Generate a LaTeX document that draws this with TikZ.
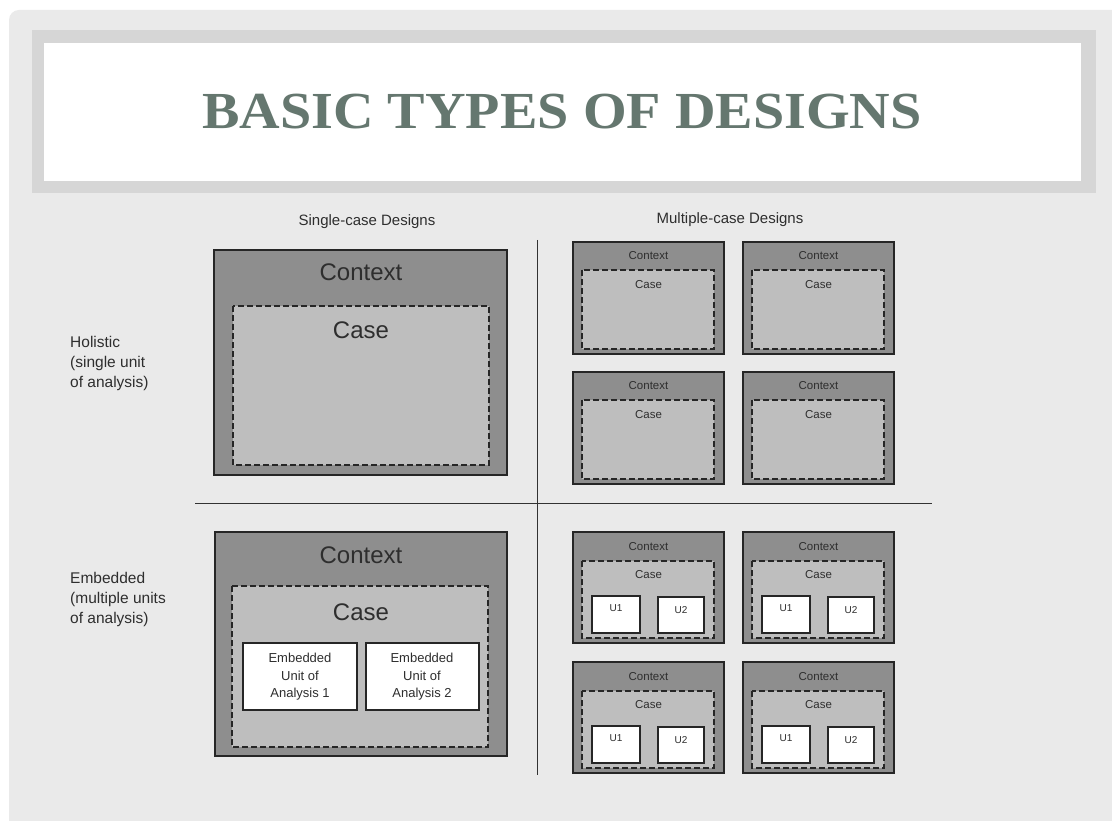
\documentclass[tikz,border=0pt]{standalone}
\usepackage{fontspec}
\setmainfont{Liberation Sans}
\newfontfamily\titlefont{Liberation Serif}
\definecolor{pagebg}{HTML}{EAEAEA}
\definecolor{bandgray}{HTML}{D6D6D6}
\definecolor{ctxfill}{HTML}{8E8E8E}
\definecolor{casefill}{HTML}{BEBEBE}
\definecolor{titlecol}{HTML}{65776F}
\definecolor{txt}{HTML}{2E2E2E}
\begin{document}
\begin{tikzpicture}[x=1pt,y=-1pt,
  ctx/.style={draw=black!85,line width=1.1pt,fill=ctxfill},
  casebox/.style={draw=black!85,line width=1.1pt,fill=casefill,dash pattern=on 6pt off 3pt},
  unitbox/.style={draw=black!85,line width=1.1pt,fill=white},
  lbl/.style={text=txt,inner sep=0pt},
  divider/.style={draw=black!80,line width=0.9pt}]
\useasboundingbox (0,0) rectangle (1112,821);
\fill[white] (0,0) rectangle (1112,821);
\fill[pagebg,rounded corners=10pt] (9,10) rectangle (1125,840);
% title band
\fill[bandgray] (32,30) rectangle (1096,193);
\fill[white] (44,43) rectangle (1081,181);
\node[lbl,text=titlecol,font=\titlefont\bfseries\fontsize{52}{52}\selectfont,xscale=1.08] (title) at (562,112) {BASIC TYPES OF DESIGNS};
% column headers
\node[lbl,font=\fontsize{15}{15}\selectfont] (hsingle) at (367,222) {Single-case Designs};
\node[lbl,font=\fontsize{15}{15}\selectfont] (hmulti) at (730,220) {Multiple-case Designs};
% row labels
\node[lbl,anchor=north west,align=left,font=\fontsize{15.5}{20}\selectfont] (rhol) at (70,336) {Holistic\\(single unit\\of analysis)};
\node[lbl,anchor=north west,align=left,font=\fontsize{15.5}{20}\selectfont] (remb) at (70,572) {Embedded\\(multiple units\\of analysis)};
% dividers
\coordinate (vtop) at (537,240);
\coordinate (vbot) at (537,775);
\coordinate (hl) at (195,503);
\coordinate (hr) at (932,503);
\draw[divider] (vtop) -- (vbot);
\draw[divider] (hl) -- (hr);
% single holistic
\draw[ctx] (214,250) rectangle (507,475);
\draw[casebox] (233,306) rectangle (489,465);
\node[lbl,font=\fontsize{24}{24}\selectfont] (c1) at (361,272) {Context};
\node[lbl,font=\fontsize{24}{24}\selectfont] (s1) at (361,330) {Case};
% single embedded
\draw[ctx] (215,532) rectangle (507,756);
\draw[casebox] (232,586) rectangle (488,747);
\node[lbl,font=\fontsize{24}{24}\selectfont] (c2) at (361,555) {Context};
\node[lbl,font=\fontsize{24}{24}\selectfont] (s2) at (361,612) {Case};
\draw[unitbox] (243,643) rectangle (357,710);
\draw[unitbox] (366,643) rectangle (479,710);
\node[lbl,align=center,font=\fontsize{13}{17.5}\selectfont] (e1) at (300,677) {Embedded\\Unit of\\Analysis 1};
\node[lbl,align=center,font=\fontsize{13}{17.5}\selectfont] (e2) at (422,677) {Embedded\\Unit of\\Analysis 2};
% multiple holistic
\foreach \x/\y [count=\i] in {573/242, 743/242, 573/372, 743/372}{
  \draw[ctx] (\x,\y) rectangle ++(151,112);
  \draw[casebox] (\x+9,\y+28) rectangle ++(132,79);
  \node[lbl,font=\fontsize{11.5}{11.5}\selectfont] (mc\i) at (\x+75.5,\y+14) {Context};
  \node[lbl,font=\fontsize{11.5}{11.5}\selectfont] (ms\i) at (\x+75.5,\y+43) {Case};
}
% multiple embedded
\foreach \x/\y [count=\i] in {573/532, 743/532, 573/662, 743/662}{
  \draw[ctx] (\x,\y) rectangle ++(151,111);
  \draw[casebox] (\x+9,\y+29) rectangle ++(132,77);
  \node[lbl,font=\fontsize{11.5}{11.5}\selectfont] (ec\i) at (\x+75.5,\y+15) {Context};
  \node[lbl,font=\fontsize{11.5}{11.5}\selectfont] (es\i) at (\x+75.5,\y+43) {Case};
  \draw[unitbox] (\x+19,\y+64) rectangle ++(48,37);
  \draw[unitbox] (\x+85,\y+65) rectangle ++(46,36);
  \node[lbl,font=\fontsize{10}{10}\selectfont] (eu\i a) at (\x+43,\y+76) {U1};
  \node[lbl,font=\fontsize{10}{10}\selectfont] (eu\i b) at (\x+108,\y+78) {U2};
}
\end{tikzpicture}
\end{document}
